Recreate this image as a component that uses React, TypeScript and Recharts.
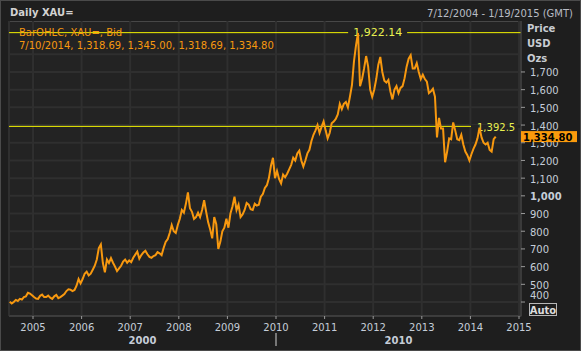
import {
  LineChart,
  Line,
  XAxis,
  YAxis,
  CartesianGrid,
  ReferenceLine,
} from "recharts";

// ─── Data (two readings per month) ───────────────────────────────────────────

const FIRST_YEAR = 2004;
const FIRST_SLOT = 12; // series starts mid-July 2004
const SLOTS_PER_YEAR = 24;

const gold2004 = [402, 392, 400, 412, 406, 418, 414, 428, 432, 452, 448, 438];
const gold2005 = [428, 420, 418, 435, 442, 428, 428, 436, 425, 418, 432, 440, 422, 428, 436, 445, 462, 472, 470, 462, 468, 492, 530, 505];
const gold2006 = [530, 560, 572, 550, 560, 582, 605, 640, 705, 725, 620, 568, 640, 620, 648, 622, 600, 575, 590, 605, 628, 640, 622, 635];
const gold2007 = [625, 650, 668, 685, 645, 665, 680, 690, 670, 655, 650, 660, 665, 682, 675, 665, 705, 740, 755, 790, 835, 800, 790, 835];
const gold2008 = [870, 920, 905, 955, 1020, 930, 910, 870, 880, 905, 880, 920, 975, 910, 850, 810, 760, 880, 840, 700, 740, 800, 820, 870];
const gold2009 = [820, 900, 940, 995, 920, 950, 880, 895, 920, 960, 950, 925, 920, 955, 945, 950, 995, 1010, 1045, 1060, 1100, 1170, 1215, 1100];
const gold2010 = [1140, 1095, 1070, 1120, 1105, 1125, 1150, 1175, 1215, 1200, 1240, 1255, 1200, 1165, 1200, 1240, 1260, 1310, 1345, 1370, 1400, 1355, 1390, 1420];
const gold2011 = [1370, 1325, 1355, 1410, 1420, 1435, 1460, 1520, 1490, 1520, 1530, 1500, 1560, 1625, 1760, 1850, 1920, 1620, 1660, 1720, 1790, 1730, 1600, 1560];
const gold2012 = [1600, 1660, 1740, 1785, 1700, 1650, 1640, 1655, 1590, 1545, 1600, 1620, 1580, 1610, 1620, 1665, 1730, 1775, 1795, 1720, 1720, 1750, 1700, 1660];
const gold2013 = [1685, 1660, 1645, 1580, 1590, 1605, 1560, 1330, 1440, 1380, 1380, 1190, 1250, 1325, 1320, 1415, 1370, 1320, 1315, 1345, 1290, 1250, 1230, 1200];
const gold2014 = [1235, 1265, 1290, 1325, 1385, 1330, 1300, 1290, 1300, 1260, 1250, 1320, 1334.8];

const seriesByYear = [
  gold2004, gold2005, gold2006, gold2007, gold2008, gold2009,
  gold2010, gold2011, gold2012, gold2013, gold2014,
];

const yearTicks = [2005, 2006, 2007, 2008, 2009, 2010, 2011, 2012, 2013, 2014, 2015];
const priceTicks = [400, 500, 600, 700, 800, 900, 1000, 1100, 1200, 1300, 1400, 1500, 1600, 1700];
const gridPrices = [...priceTicks, 1800];
const decadeLabels = ["2000", "2010"];
const DECADE_BREAK = 2010;

const LAST_CLOSE = 1334.8;
const HIGH_LEVEL = 1922.14;
const MARK_LEVEL = 1392.5;

const TITLE = "Daily XAU=";
const RANGE_TEXT = "7/12/2004 - 1/19/2015 (GMT)";
const LEGEND_SERIES = "BarOHLC, XAU=, Bid";
const LEGEND_VALUES = "7/10/2014, 1,318.69, 1,345.00, 1,318.69, 1,334.80";
const UNIT_LINES = ["Price", "USD", "Ozs"];

const X_DOMAIN: [number, number] = [2004.506, 2015.041];
const Y_DOMAIN: [number, number] = [321, 1988];

const data = seriesByYear.flatMap((vals, k) =>
  vals.map((price, i) => ({
    t: FIRST_YEAR + k + ((k === 0 ? FIRST_SLOT : 0) + i + 0.5) / SLOTS_PER_YEAR,
    price,
  }))
);

// ─── Layout & style ──────────────────────────────────────────────────────────

const W = 581;
const H = 351;
const PLOT = { left: 9, top: 21, width: 512, height: 295 };

const FONT = '"DejaVu Sans", Verdana, sans-serif';
const BG = "#1e1e1e";
const PLOT_BG = "#232323";
const GRID = "#2f2f2f";
const FRAME = "#474747";
const ORANGE = "#f7980f";
const YELLOW = "#f2f200";
const LEVEL_TEXT = "#e8f050";
const AXIS_TEXT = "#c5cdd8";

// positions for the overlay labels (decade row, last price tag)
const xPos = (t: number) =>
  PLOT.left + ((t - X_DOMAIN[0]) / (X_DOMAIN[1] - X_DOMAIN[0])) * PLOT.width;
const yPos = (v: number) =>
  PLOT.top + ((Y_DOMAIN[1] - v) / (Y_DOMAIN[1] - Y_DOMAIN[0])) * PLOT.height;

// ─── Ticks & labels ──────────────────────────────────────────────────────────

function YearTick({ x, y, payload }: any) {
  return (
    <text x={x} y={y + 10} textAnchor="middle" fill={AXIS_TEXT} fontSize={10} fontFamily={FONT}>
      {payload.value}
    </text>
  );
}

function PriceTick({ x, y, payload }: any) {
  const v = payload.value;
  const shift = v === 400 ? -8 : 0; // pushed up clear of the Auto box
  return (
    <text
      x={x + 3}
      y={y + 4.5 + shift}
      textAnchor="start"
      fill={AXIS_TEXT}
      fontSize={10}
      fontWeight={v === 1000 ? "bold" : "normal"}
      fontFamily={FONT}
    >
      {v.toLocaleString("en-US")}
    </text>
  );
}

function highLabel({ viewBox }: any) {
  const cx = viewBox.x + viewBox.width * 0.72;
  return (
    <g>
      <rect x={cx - 29.5} y={viewBox.y - 1.5} width={59} height={3} fill={PLOT_BG} />
      <text x={cx} y={viewBox.y + 3.5} textAnchor="middle" fill={LEVEL_TEXT} fontSize={11} fontFamily={FONT}>
        {HIGH_LEVEL.toLocaleString("en-US")}
      </text>
    </g>
  );
}

function markLabel({ viewBox }: any) {
  const right = viewBox.x + viewBox.width;
  return (
    <g>
      <rect x={right - 50} y={viewBox.y - 1.5} width={50} height={3} fill={PLOT_BG} />
      <text x={right - 44} y={viewBox.y + 4.5} fill={LEVEL_TEXT} fontSize={10} fontFamily={FONT}>
        {MARK_LEVEL.toLocaleString("en-US")}
      </text>
    </g>
  );
}

// ─── Main component ──────────────────────────────────────────────────────────

export default function App() {
  const tagY = yPos(LAST_CLOSE);
  const breakX = xPos(DECADE_BREAK);
  const decadeCenters = [
    (PLOT.left + breakX) / 2,
    (breakX + PLOT.left + PLOT.width) / 2,
  ];

  return (
    <div
      style={{
        position: "absolute",
        left: 0,
        top: 0,
        width: W,
        height: H,
        background: BG,
        boxSizing: "border-box",
        border: "1px solid #4a4a4a",
        overflow: "hidden",
      }}
    >
      {/* plot backdrop, under the chart */}
      <svg width={W} height={H} style={{ position: "absolute", left: -1, top: -1 }}>
        <rect
          x={PLOT.left + 0.5}
          y={PLOT.top + 0.5}
          width={PLOT.width - 0.5}
          height={PLOT.height - 0.5}
          fill={PLOT_BG}
          stroke={FRAME}
        />
      </svg>

      <div style={{ position: "absolute", left: -1, top: -1 }}>
        <LineChart
          width={W}
          height={H}
          data={data}
          margin={{ top: PLOT.top, right: 0, left: PLOT.left, bottom: 0 }}
        >
          <CartesianGrid stroke={GRID} strokeWidth={2} horizontalValues={gridPrices} />
          <XAxis
            dataKey="t"
            type="number"
            domain={X_DOMAIN}
            ticks={yearTicks}
            allowDataOverflow
            interval={0}
            height={H - PLOT.top - PLOT.height}
            axisLine={{ stroke: FRAME }}
            tickLine={{ stroke: "#9a9a9a" }}
            tickSize={3}
            tick={<YearTick />}
          />
          <YAxis
            orientation="right"
            type="number"
            domain={Y_DOMAIN}
            ticks={priceTicks}
            allowDataOverflow
            interval={0}
            width={W - PLOT.left - PLOT.width}
            axisLine={{ stroke: FRAME }}
            tickLine={{ stroke: "#9a9a9a" }}
            tickSize={4}
            tick={<PriceTick />}
          />
          <ReferenceLine y={HIGH_LEVEL} stroke={YELLOW} strokeWidth={1} label={highLabel} />
          <ReferenceLine y={MARK_LEVEL} stroke={YELLOW} strokeWidth={1} label={markLabel} />
          <Line
            type="linear"
            dataKey="price"
            stroke={ORANGE}
            strokeWidth={2}
            dot={false}
            isAnimationActive={false}
          />
        </LineChart>
      </div>

      {/* title bar, legend, unit labels, price tag, decade row, Auto box */}
      <svg width={W} height={H} style={{ position: "absolute", left: -1, top: -1, pointerEvents: "none" }}>
        <text x={10} y={16} fill="#d2d2d2" fontSize={10} fontWeight="bold" fontFamily={FONT}>
          {TITLE}
        </text>
        <text x={573} y={16.5} textAnchor="end" fill="#b8bcc4" fontSize={10} fontFamily={FONT}>
          {RANGE_TEXT}
        </text>

        <text x={19} y={36} fill={ORANGE} fontSize={10} fontFamily={FONT}>
          {LEGEND_SERIES}
        </text>
        <text x={19} y={49} fill={ORANGE} fontSize={10} fontFamily={FONT}>
          {LEGEND_VALUES}
        </text>

        {UNIT_LINES.map((u, i) => (
          <text key={u} x={527} y={31.5 + i * 15} fill="#c8ccd2" fontSize={10} fontWeight="bold" fontFamily={FONT}>
            {u}
          </text>
        ))}

        <rect x={PLOT.left + PLOT.width} y={tagY - 5.5} width={56} height={11} fill="#fb9a0c" />
        <text x={PLOT.left + PLOT.width + 2} y={tagY + 4} fill="#000" fontSize={10} fontWeight="bold" fontFamily={FONT}>
          {LAST_CLOSE.toLocaleString("en-US", { minimumFractionDigits: 2 })}
        </text>

        <line x1={breakX} x2={breakX} y1={333} y2={346} stroke="#d0d0d0" strokeWidth={1} />
        {decadeLabels.map((d, i) => (
          <text
            key={d}
            x={decadeCenters[i]}
            y={344}
            textAnchor="middle"
            fill={AXIS_TEXT}
            fontSize={10}
            fontWeight="bold"
            fontFamily={FONT}
          >
            {d}
          </text>
        ))}

        <rect x={529.5} y={303.5} width={27} height={12} fill="none" stroke="#b8b8b8" />
        <text x={543} y={313.5} textAnchor="middle" fill="#dcdcdc" fontSize={10} fontWeight="bold" fontFamily={FONT}>
          Auto
        </text>
      </svg>
    </div>
  );
}
